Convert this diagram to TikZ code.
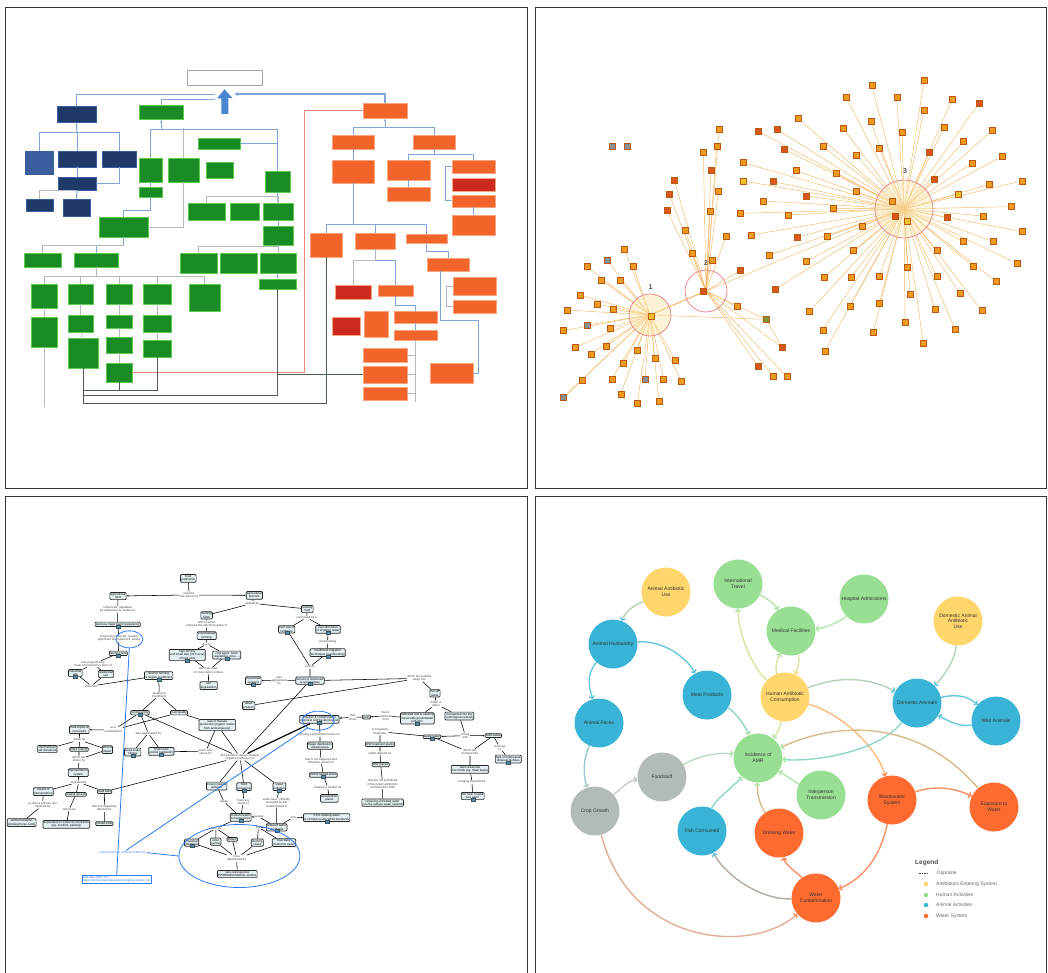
\documentclass[tikz,border=0pt]{standalone}
\usepackage{fontspec}
\setmainfont{Liberation Sans}
\usepackage{tikz}
\usetikzlibrary{arrows.meta}
\usetikzlibrary{positioning}
\usetikzlibrary{shapes.geometric}
\usetikzlibrary{backgrounds}

\definecolor{navyb}{HTML}{1F3A68}
\definecolor{navyl}{HTML}{3A5E9E}
\definecolor{grnb}{HTML}{1A8C26}
\definecolor{grnl}{HTML}{5CCB4E}
\definecolor{redb}{HTML}{F2642A}
\definecolor{redl}{HTML}{F8A47E}
\definecolor{redd}{HTML}{CC2A1E}
\definecolor{lnblue}{HTML}{7FA6D6}
\definecolor{lngray}{HTML}{B4B9BE}
\definecolor{lndark}{HTML}{4E5B50}
\definecolor{lnred}{HTML}{EC8A7A}
\definecolor{arblue}{HTML}{4A86D0}
\definecolor{sqa}{HTML}{EE9A22}
\definecolor{sqb}{HTML}{D9571A}
\definecolor{sqg}{HTML}{8A8F92}
\definecolor{sqy}{HTML}{F2C12E}
\definecolor{sqk}{HTML}{7E9A3A}
\definecolor{sqdk}{HTML}{B95A10}
\definecolor{netl}{HTML}{F3B866}
\definecolor{hubring}{HTML}{E98A8A}
\definecolor{cmfill}{HTML}{E4EFF1}
\definecolor{cmicon}{HTML}{5E8CA2}
\definecolor{refblue}{HTML}{2C7BF2}
\definecolor{cY}{HTML}{FED66C}
\definecolor{cG}{HTML}{99DF93}
\definecolor{cB}{HTML}{39B4D6}
\definecolor{cO}{HTML}{FE6B31}
\definecolor{cR}{HTML}{B2BBBA}

\newcommand{\cmfont}{\fontsize{3}{3.4}\selectfont}
\newcommand{\amrfont}{\fontsize{5}{5.7}\selectfont}

\tikzset{
  panel/.style={draw=black!80, line width=0.9pt},
  sz/.style 2 args={minimum width=#1pt, minimum height=#2pt},
  navybox/.style={draw=navyl, line width=0.8pt, fill=navyb, inner sep=0pt},
  grnbox/.style={draw=grnl, line width=0.8pt, fill=grnb, inner sep=0pt},
  redbox/.style={draw=redl, line width=0.8pt, fill=#1, inner sep=0pt},
  redbox/.default=redb,
  goalbox/.style={draw=black!35, line width=0.6pt, fill=white, inner sep=0pt},
  flowln/.style={draw=lnblue, line width=1pt},
  thinln/.style={draw=lngray, line width=0.5pt},
  darkln/.style={draw=lndark, line width=1pt},
  redln/.style={draw=lnred, line width=1pt},
  bigarrow/.style={draw=arblue, line width=7pt, -{Triangle[length=9pt,width=15pt]}, shorten >=4pt},
  hub/.style={circle, draw=hubring, line width=0.8pt, inner sep=0pt},
  hubno/.style={font=\fontsize{7}{7}\selectfont\bfseries, text=black!70, inner sep=0pt},
  sqn/.style={draw=sqdk, fill=sq#1, minimum size=6pt, inner sep=0pt, line width=0.35pt},
  netln/.style={draw=netl, line width=0.45pt},
  cmbox/.style={draw=black!85, line width=0.7pt, rounded corners=1pt, fill=cmfill, font=\cmfont, align=center, inner sep=0.8pt},
  lk/.style={font=\cmfont, text=black!75, align=center, inner sep=0.3pt},
  icsq/.style={fill=cmicon, draw=cmicon!60!black, line width=0.2pt, minimum width=4pt, minimum height=3pt, inner sep=0pt},
  ic/.style={label={[icsq, label distance=-2.2pt]below:{}}},
  cml/.style={draw=black, line width=0.55pt},
  cma/.style={cml, -{Latex[length=2pt,width=1.8pt]}},
  refln/.style={draw=refblue, line width=0.8pt},
  refell/.style={ellipse, draw=refblue, line width=0.8pt, inner sep=0pt},
  amrn/.style={circle, fill=#1, minimum size=49pt, inner sep=0pt, align=center, font=\amrfont, text=black!80},
  ed/.style 2 args={draw=#1!50!#2!75!white, line width=1.4pt, -{Straight Barb[length=2.2pt,width=5.5pt,color=#2!80!white]}},
  lgd/.style={font=\fontsize{5}{6}\selectfont, text=black!60, inner sep=0.5pt},
  ldot/.style={circle, fill=#1, minimum size=4.5pt, inner sep=0pt},
}

\begin{document}
\begin{tikzpicture}[x=1pt, y=-1pt]
    \useasboundingbox (0,0) rectangle (1048,973);

    % ---- top left: flow chart
    \node[goalbox, sz={75}{15}] (goal) at (224.5,77.5) {};
    \coordinate (abase) at (225,114);
    \draw[bigarrow] (abase) -- (goal.south);

    \node[navybox, sz={39}{16}] (n1) at (76.5,114) {};
    \node[navybox, sz={28}{23}, fill=navyl] (n2) at (39,162.5) {};
    \node[navybox, sz={38}{16}] (n3) at (77,159) {};
    \node[navybox, sz={34}{16}] (n4) at (119,159) {};
    \node[navybox, sz={38}{13}] (n5) at (77,183.5) {};
    \node[navybox, sz={27}{12}] (n6) at (39.5,205) {};
    \node[navybox, sz={27}{17}] (n7) at (76.5,207.5) {};

    \node[grnbox, sz={44}{14}] (g1) at (161,112) {};
    \node[grnbox, sz={42}{11}] (g2) at (219,143.5) {};
    \node[grnbox, sz={23}{24}] (g3) at (150.5,170) {};
    \node[grnbox, sz={31}{24}] (g4) at (183.5,170) {};
    \node[grnbox, sz={27}{16}] (g5) at (219.5,170) {};
    \node[grnbox, sz={23}{10}] (g6) at (150.5,192) {};
    \node[grnbox, sz={25}{21}] (g7) at (277.5,181.5) {};
    \node[grnbox, sz={37}{17}] (g8) at (206.5,211.5) {};
    \node[grnbox, sz={29}{17}] (g9) at (244.5,211.5) {};
    \node[grnbox, sz={30}{17}] (g10) at (278,211.5) {};
    \node[grnbox, sz={30}{19}] (g11) at (278,235.5) {};
    \node[grnbox, sz={49}{20}] (g12) at (123.5,227) {};
    \node[grnbox, sz={37}{20}] (g13) at (198.5,263) {};
    \node[grnbox, sz={37}{20}] (g14) at (238.5,263) {};
    \node[grnbox, sz={36}{20}] (g15) at (278,263) {};
    \node[grnbox, sz={37}{10}] (g16) at (277.5,284) {};
    \node[grnbox, sz={37}{14}] (g17) at (42.5,260) {};
    \node[grnbox, sz={44}{14}] (g18) at (96,260) {};
    \node[grnbox, sz={26}{24}] (g19) at (44,296) {};
    \node[grnbox, sz={25}{20}] (g20) at (80.5,294) {};
    \node[grnbox, sz={26}{20}] (g21) at (119,294) {};
    \node[grnbox, sz={28}{20}] (g22) at (157,294) {};
    \node[grnbox, sz={31}{27}] (g23) at (204.5,297.5) {};
    \node[grnbox, sz={26}{30}] (g24) at (44,332) {};
    \node[grnbox, sz={25}{17}] (g25) at (80.5,323.5) {};
    \node[grnbox, sz={26}{13}] (g26) at (119,321.5) {};
    \node[grnbox, sz={28}{17}] (g27) at (157,323.5) {};
    \node[grnbox, sz={30}{30}] (g28) at (83,353) {};
    \node[grnbox, sz={26}{16}] (g29) at (119,345) {};
    \node[grnbox, sz={28}{17}] (g30) at (157,348.5) {};
    \node[grnbox, sz={26}{19}] (g31) at (119,372.5) {};

    \node[redbox, sz={44}{15}] (r1) at (385,110.5) {};
    \node[redbox, sz={42}{14}] (r2) at (353,142) {};
    \node[redbox, sz={42}{14}] (r3) at (434,142) {};
    \node[redbox, sz={42}{23}] (r4) at (353,171.5) {};
    \node[redbox, sz={43}{20}] (r5) at (408.5,170) {};
    \node[redbox, sz={43}{14}] (r6) at (408.5,194) {};
    \node[redbox, sz={43}{13}] (r7) at (473.5,166.5) {};
    \node[redbox=redd, sz={43}{13}] (r8) at (473.5,184.5) {};
    \node[redbox, sz={43}{12}] (r9) at (473.5,201) {};
    \node[redbox, sz={43}{20}] (r10) at (473.5,225) {};
    \node[redbox, sz={32}{24}] (r11) at (326,245) {};
    \node[redbox, sz={40}{16}] (r12) at (375,241) {};
    \node[redbox, sz={41}{9}] (r13) at (426.5,238.5) {};
    \node[redbox, sz={42}{13}] (r14) at (448,264.5) {};
    \node[redbox=redd, sz={36}{14}] (r15) at (353,292) {};
    \node[redbox, sz={35}{11}] (r16) at (395.5,290.5) {};
    \node[redbox, sz={43}{18}] (r17) at (474.5,286) {};
    \node[redbox, sz={43}{13}] (r18) at (474.5,306.5) {};
    \node[redbox=redd, sz={28}{18}] (r19) at (346,326) {};
    \node[redbox, sz={24}{26}] (r20) at (376,324) {};
    \node[redbox, sz={43}{12}] (r21) at (415.5,317) {};
    \node[redbox, sz={43}{10}] (r22) at (415.5,335) {};
    \node[redbox, sz={44}{14}] (r23) at (385,355) {};
    \node[redbox, sz={44}{17}] (r24) at (385,374.5) {};
    \node[redbox, sz={44}{13}] (r25) at (385,393.5) {};
    \node[redbox, sz={43}{20}] (r26) at (451.5,373) {};

    \coordinate (jl) at (215,95);
    \coordinate (jg) at (215,100);
    \coordinate (jr) at (234,94);
    \draw[flowln] (n1.north) |- (jl);
    \draw[flowln] (g1.north) |- (jg);
    \draw[flowln, line width=1.6pt, -{Latex[length=4pt,width=4pt]}] (r1.north) |- (jr);

    \coordinate (busn) at (77,133);
    \draw[flowln, -{Latex[length=3pt]}] (busn) -- (n1.south);
    \draw[flowln] (n2.north) |- (busn);
    \draw[flowln] (busn) -| (n4.north);
    \draw[flowln] (busn) -- (n3.north);
    \draw[flowln] (n3.south) -- (n5.north);
    \draw[flowln] (n4.south) |- (n5.east);
    \draw[thinln] (n6.north) |- (n5.south);
    \draw[flowln] (n5.south) -- (n7.north);

    \coordinate (busg) at (162,130);
    \draw[flowln, -{Latex[length=3pt]}] (busg) -- (g1.south);
    \draw[flowln] (g3.north) |- (busg);
    \draw[flowln] (busg) -| (g7.north);
    \draw[flowln] (g2.east) -| (g7.north);
    \draw[thinln] (g4.north) -- ++(0,-30);
    \draw[thinln] (g4.south) |- (g12.east);
    \draw[flowln] (g3.south) -- (g6.north);
    \draw[flowln] (g6.south) -- ++(0,13) -| (g12.north);
    \draw[flowln] (g12.south) -- ++(0,8) -| (g18.north);
    \draw[thinln] (g17.north) |- ([yshift=-8pt]g12.south);
    \coordinate (busg2) at (96,276);
    \draw[thinln] (g18.south) -- (busg2);
    \foreach \n in {g19,g20,g21,g22,g23}
        \draw[thinln] (busg2) -| (\n.north);
    \draw[thinln] (g19.south) -- (g24.north);
    \draw[thinln] (g20.south) -- (g25.north);
    \draw[thinln] (g25.south) -- (g28.north);
    \draw[thinln] (g21.south) -- (g26.north);
    \draw[thinln] (g26.south) -- (g29.north);
    \draw[thinln] (g29.south) -- (g31.north);
    \draw[thinln] (g22.south) -- (g27.north);
    \draw[thinln] (g27.south) -- (g30.north);
    \draw[flowln] (g7.south) -- (g10.north);
    \draw[flowln] (g10.south) -- (g11.north);
    \draw[flowln] (g11.south) -- (g15.north);
    \draw[flowln] (g15.south) -- (g16.north);
    \draw[thinln] (g8.north) -- ++(0,-6) -| (g10.north);
    \draw[thinln] (g13.north) -- ++(0,-6) -| (g15.north);
    \draw[thinln] (g24.south) -- ++(0,60);

    \draw[redln] (g31.east) -| ([xshift=-58pt]r1.west) -- (r1.west);
    \draw[darkln] (g28.south) -- ++(0,22) -| (g30.south);
    \draw[darkln] (g28.south) -- ++(0,27) -| (g16.south);
    \draw[darkln] (g28.south) -- ++(0,35) -| (r11.south);
    \draw[darkln] (g31.south) -- ++(0,8);
    \draw[darkln] (r24.west) -- ++(-86,0);

    \coordinate (busr) at (385,128);
    \draw[flowln, -{Latex[length=3pt]}] (busr) -- (r1.south);
    \draw[flowln] (r2.north) |- (busr);
    \draw[flowln] (busr) -| (r3.north);
    \draw[flowln] (r2.south) -- (r4.north);
    \coordinate (busr2) at (353,225);
    \draw[flowln] (r4.south) -- (busr2);
    \draw[flowln] (r11.north) |- (busr2);
    \draw[flowln] (busr2) -| (r13.north);
    \draw[flowln] (busr2) -| (r12.north);
    \coordinate (busr3) at (434,155);
    \draw[flowln] (r3.south) -- (busr3);
    \draw[flowln] (r5.north) |- (busr3);
    \draw[flowln] (busr3) -| (r7.north);
    \draw[flowln] (r5.south) -- (r6.north);
    \draw[flowln] (r7.west) -- ++(-6,0) |- (r9.west);
    \draw[flowln] (r9.south) -- (r10.north);
    \draw[flowln] (r13.south) -- ++(0,8) -| (r14.north);
    \draw[flowln] ([xshift=-8pt]r14.south) |- (478,320) |- (r26.east);
    \draw[flowln] (r12.south) -- ++(0,11) -| (r16.north);
    \draw[thinln] (r12.south) -- ++(0,11) -| (r15.north);
    \draw[flowln] (r16.south) -- ++(0,9) -| (r21.north);
    \draw[flowln] (r21.south) -- (r22.north);
    \draw[thinln] (r22.south) -- ++(0,62);
    \foreach \n in {r23,r24,r25}
        \draw[thinln] (\n.east) -- ++(9,0);
    \draw[thinln] (r17.west) -- ++(-6,0) |- (r18.west);

    % ---- top right: network
    \begin{scope}[shift={(530,0)}, scale=1/3]
        \node[hub, minimum size=42pt, fill=sqy!40, fill opacity=0.5] (h1) at (360,945) {};
        \node[hub, minimum size=42pt] (h2) at (528,873) {};
        \node[hub, minimum size=58pt, fill=sqy!35, fill opacity=0.45] (h3) at (1122,627) {};
        \node[hubno] (hl1) at (362,860) {1};
        \node[hubno] (hl2) at (528,790) {2};
        \node[hubno] (hl3) at (1125,512) {3};
        \node[sqn=y] (hc1) at (362,950) {};
        \node[sqn=b] (hc2) at (520,873) {};
        \node[sqn=g] (hh1) at (245,440) {};
        \node[sqn=g] (hh2) at (290,440) {};

        \foreach \x/\y/\c [count=\i] in {1025/255/a, 1182/242/a, 948/292/a, 1100/292/a, 1267/297/a, 1347/310/b,
            1182/330/a, 1022/365/a, 940/385/a, 1117/398/a, 1242/383/a, 1385/392/a, 878/440/a, 1048/445/a,
            1300/425/a, 1198/458/b, 978/465/a, 1415/470/a, 1325/490/a, 917/520/a, 1213/538/b, 1475/543/a,
            1378/553/a, 1285/582/y, 978/575/a, 910/625/a, 1442/620/a, 1360/648/a, 1250/652/b, 997/678/a,
            1475/695/a, 1300/725/a, 1390/725/a, 890/710/a, 970/752/a, 1220/752/a, 1460/790/a, 1330/800/a,
            1398/845/a, 1132/802/a, 1220/828/a, 963/832/a, 1048/828/a, 882/832/a, 1140/883/a, 1290/880/a,
            1048/910/a, 960/918/a, 1215/928/a, 1355/932/a, 1125/968/a, 1030/997/a, 1275/988/a, 1180/1030/a,
            1085/605/a, 1095/648/b, 1130/665/y} {
            \node[sqn=\c] (t\i) at (\x,\y) {};
            \begin{scope}[on background layer]
                \draw[netln] (h3.center) -- (t\i);
            \end{scope}
        }
        \foreach \x/\y/\c [count=\i] in {683/393/b, 740/388/b, 803/355/a, 763/448/b, 640/488/a, 797/512/a,
            640/543/y, 730/545/b, 828/588/b, 698/603/a, 630/640/a, 775/645/a, 663/705/a, 800/712/b,
            718/765/a, 828/785/a, 735/868/b, 838/935/a, 878/990/a, 885/1053/a} {
            \node[sqn=\c] (u\i) at (\x,\y) {};
            \begin{scope}[on background layer]
                \draw[netln] (h3.center) -- (u\i);
            \end{scope}
        }
        \foreach \x/\y/\c [count=\i] in {567/388/a, 520/457/a, 560/440/a, 543/510/b, 565/575/a, 540/633/a,
            588/710/a, 465/690/a, 433/540/b, 418/583/b, 410/630/b, 485/760/a, 545/782/a, 630/812/b,
            620/920/a, 683/1098/b, 730/1130/a, 770/1130/a, 757/1043/b, 708/958/k} {
            \node[sqn=\c] (m\i) at (\x,\y) {};
            \begin{scope}[on background layer]
                \draw[netln] (h2.center) -- (m\i);
            \end{scope}
        }
        \foreach \x/\y/\c [count=\i] in {283/748/a, 232/782/g, 170/800/a, 310/800/a, 213/840/a, 270/840/a,
            150/885/a, 200/912/a, 250/928/a, 110/930/a, 172/975/g, 240/985/a, 100/992/a, 135/1042/a,
            182/1062/a, 228/1040/a, 320/1050/a, 375/1075/a, 435/1080/a, 280/1090/a, 245/1137/a,
            345/1137/g, 400/1137/a, 453/1143/a, 155/1140/a, 272/1182/a, 322/1210/a, 387/1205/a,
            100/1193/g} {
            \node[sqn=\c] (v\i) at (\x,\y) {};
            \begin{scope}[on background layer]
                \draw[netln] (h1.center) -- (v\i);
            \end{scope}
        }
        \begin{scope}[on background layer]
            \draw[netln, line width=1pt] (h1.center) -- (h2.center);
            \draw[netln] (h1.center) -- (m20);
            \draw[netln] (h2.center) -- (h3.center);
            \draw[netln] (v25) -- (v29);
            \draw[netln] (m20) -- (m19);
        \end{scope}
    \end{scope}

    % ---- bottom left: concept map
    \begin{scope}
    \clip (5,496) rectangle (527,980);
    \begin{scope}[shift={(0,490)}, scale=1/3]
        \node[cmbox] (fp) at (565,265) {food\\production};
        \node[cmbox] (al) at (354,318) {agricultural\\land};
        \node[cmbox] (ap) at (763,316) {agricultural\\practice};
        \node[cmbox, ic] (lum) at (353,403) {land use maps (land regulations)};
        \node[cmbox, ic] (fl) at (355,490) {farming land};
        \node[cmbox, ic] (iu) at (226,549) {industrial\\use};
        \node[cmbox] (ru) at (318,552) {residential\\use};
        \node[cmbox, ic] (lff) at (476,557) {land for farming\\is largely insufficient};
        \node[cmbox, ic] (fsc) at (420,668) {food scarcity};
        \node[cmbox] (fq) at (537,668) {food quality};
        \node[cmbox] (fim) at (238,719) {food import is\\necessary};
        \node[cmbox] (iad) at (142,777) {international\\aid donations};
        \node[cmbox] (bm) at (237,778) {black market};
        \node[cmbox] (ei) at (322,779) {ethical\\import};
        \node[cmbox] (ts) at (235,848) {transportation\\system};
        \node[cmbox] (mot) at (130,905) {means of\\transportation};
        \node[cmbox] (ra) at (228,913) {road \& access};
        \node[cmbox] (rb) at (314,905) {road bars};
        \node[cmbox] (atr) at (65,998) {animal transport\\(donkey/horse carts)};
        \node[cmbox] (dec) at (199,1003) {dependent on external constraints\\(eg. controls, parking)};
        \node[cmbox] (ce) at (313,1001) {closed exits};
        \node[cmbox, ic] (ssf) at (398,786) {small scale\\fishing};
        \node[cmbox, ic] (ssa) at (484,784) {small scale\\animal husbandry};
        \node[cmbox] (lmp) at (652,705) {lack of manure\\production (organic matter\\from animal faeces)};
        \node[cmbox] (ep) at (650,888) {environmental\\pollution};
        \node[cmbox, ic] (fpo) at (732,890) {food\\poisoning};
        \node[cmbox, ic] (wp) at (838,890) {water\\pollution};
        \node[cmbox, ic] (hhc) at (722,982) {human health\\consequences};
        \node[cmbox, ic] (rws) at (830,1012) {reduced water\\standards};
        \node[cmbox, ic] (dw35) at (980,983) {3.5\% drinking water\\is complying with WHO standards};
        \node[cmbox, ic] (ii) at (575,1058) {intestinal\\infections};
        \node[cmbox] (cc) at (647,1055) {colon\\cancer};
        \node[cmbox] (oth) at (697,1048) {Others};
        \node[cmbox] (stc) at (772,1058) {stunting\\cases};
        \node[cmbox] (bbs) at (852,1058) {blue baby\\syndrome cases};
        \node[cmbox] (ses) at (712,1152) {sero-retrospective\\EPIDEMIOLOGICAL studies};
        \node[cmbox] (ffs) at (620,376) {farming\\fields};
        \node[cmbox] (inf) at (620,437) {industrialized\\farming};
        \node[cmbox, ic] (hd) at (562,495) {high density\\and small size (<0.5 acre)\\of land plots};
        \node[cmbox, ic] (ct) at (680,495) {crop types: fresh\\vegetables, olive, ...};
        \node[cmbox] (sd) at (626,587) {soil\\degradation};
        \node[cmbox] (ffd) at (922,357) {farming\\field};
        \node[cmbox, ic] (ouf) at (860,418) {over use of\\fertilizers};
        \node[cmbox, ic] (oai) at (984,418) {over-allocation\\of irrigation water};
        \node[cmbox, ic] (iit) at (983,488) {insufficient irrigation\\techniques (overflooding)};
        \node[cmbox, ic] (ecs) at (930,572) {excess of chemicals\\in soil residues};
        \node[cmbox, ic] (isp) at (760,572) {insecticide\\spraying};
        \node[cmbox] (up) at (746,647) {urban\\produce};
        \node[cmbox] (row) at (1305,610) {run-off\\water};
        \node[cmbox, ic] (igp) at (1252,685) {infiltrated and is causing\\irreversible groundwater\\pollution};
        \node[cmbox] (thn) at (1378,678) {transported into the\\hydrological network};
        \node[cmbox] (wel) at (1099,681) {wells};
        \node[cmbox, ic] (pc) at (958,688) {pollution \& contamination\\chemical and bacteriological};
        \node[cmbox] (wdi) at (960,767) {Water distribution\\infrastructure};
        \node[cmbox, ic] (psa) at (970,855) {poorly served areas};
        \node[cmbox] (dsp) at (988,925) {desalination\\plants};
        \node[cmbox] (wwt) at (1140,763) {WW treatment plants};
        \node[cmbox] (wwp) at (1142,824) {WW pumps};
        \node[cmbox] (ruw) at (1148,938) {releasing untreated water\\into the surface water network};
        \node[cmbox, ic] (wwa) at (1296,740) {waste water};
        \node[cmbox] (sw) at (1480,737) {solid waste};
        \node[cmbox, ic] (lsw) at (1525,807) {lack of solid waste\\disposal facilities};
        \node[cmbox] (oar) at (1410,838) {open areas like\\river beds (eg. Wadi Gaza)};
        \node[cmbox, ic] (ncs) at (1418,918) {the near coastal\\sea water};

        \node[lk] (lk1) at (567,315) {requires\\raw resources};
        \node[lk] (lk2) at (353,358) {influenced, regulated\\by authorities by means of};
        \node[lk] (lk3) at (357,445) {but poorly enforced, reveals\\significant discrepancies, where};
        \node[lk] (lk4) at (280,522) {has progressively\\been encroached in favor of};
        \node[lk] (lk5) at (274,588) {therefore};
        \node[lk] (lk6) at (478,615) {leading to\\insufficient};
        \node[lk] (lk7) at (340,720) {as a\\consequence};
        \node[lk] (lk8) at (239,750) {either by};
        \node[lk] (lk9) at (237,808) {which are\\driven by};
        \node[lk] (lk10) at (236,877) {operated by};
        \node[lk] (lk11) at (128,945) {is often a primary one\\replaced by};
        \node[lk] (lk12) at (208,957) {which are};
        \node[lk] (lk13) at (313,955) {which is negatively\\affected by};
        \node[lk] (lk14) at (445,730) {also aggravated by};
        \node[lk] (lk15) at (617,785) {which also\\cause for};
        \node[lk] (lk16) at (720,801) {this situation causes multiple\\negative pathways on};
        \node[lk] (lk17) at (672,935) {leads};
        \node[lk] (lk18) at (730,935) {there are\\forms of};
        \node[lk] (lk19) at (830,938) {some have ``officially''\\accepted by the\\undetermined in};
        \node[lk] (lk20) at (776,980) {causes};
        \node[lk] (lk21) at (880,982) {only};
        \node[lk] (lk22) at (648,1015) {such as};
        \node[lk] (lk23) at (775,1012) {like};
        \node[lk] (lk24) at (710,1105) {to be\\determined by};
        \node[lk] (lk25) at (620,402) {which cannot\\enhance the efficiency gains of};
        \node[lk] (lk26) at (620,462) {due to};
        \node[lk] (lk27) at (625,542) {which by laws\\of crop-rotation-induce};
        \node[lk] (lk28) at (757,340) {applied by};
        \node[lk] (lk29) at (920,383) {composed by a};
        \node[lk] (lk30) at (983,455) {accentuating};
        \node[lk] (lk31) at (930,530) {pollute};
        \node[lk] (lk32) at (838,572) {also\\aggravated\\by};
        \node[lk] (lk33) at (1258,565) {which are washed\\away into};
        \node[lk] (lk34) at (1308,642) {which is\\either};
        \node[lk] (lk35) at (1157,678) {that is\\extracted\\from};
        \node[lk] (lk36) at (1058,682) {that\\show};
        \node[lk] (lk37) at (960,735) {posing a permanent stress on};
        \node[lk] (lk38) at (963,812) {that is not balanced and\\therefore allows for};
        \node[lk] (lk39) at (983,892) {creating a market for};
        \node[lk] (lk40) at (1140,725) {is irregularly\\treated by};
        \node[lk] (lk41) at (1140,790) {which depend on};
        \node[lk] (lk42) at (1148,882) {that are not prioritized\\in the power attribution\\and therefore WW};
        \node[lk] (lk43) at (1396,737) {mixing\\with};
        \node[lk] (lk44) at (1500,773) {belongs\\to};
        \node[lk] (lk45) at (1410,787) {which are\\dumped into};
        \node[lk] (lk46) at (1416,875) {bringing themselves};

        \begin{scope}[on background layer]
            \foreach \a/\b in {fp/lk1, al/lk2, lk2/lum, lum/lk3, lk3/fl, fl/lk4, lk4/iu, lk4/ru,
                iu/lk5, ru/lk5, lk5/lff, lff/lk6, lk6/fsc, lk6/fq, fsc/lk7, fq/lk7, fim/lk8, lk8/iad,
                lk8/bm, lk8/ei, bm/lk9, ei/lk9, lk9/ts, ts/lk10, lk10/mot, lk10/ra, lk10/rb, mot/lk11,
                lk11/atr, ra/lk12, lk12/dec, rb/lk13, lk13/ce, rb/lk16, fsc/lk14, lk14/ssf, lk14/ssa,
                fsc/lk16, fq/lmp, lmp/lk15, lk15/ssa, lmp/lk16, ap/lk28, lk28/ffs, lk28/ffd, ffs/lk25,
                lk25/inf, inf/lk26, lk26/hd, lk26/ct, hd/lk27, ct/lk27, lk27/sd, ffd/lk29, lk29/ouf,
                lk29/oai, oai/lk30, lk30/iit, ouf/lk31, iit/lk31, lk31/ecs, ecs/lk32, ecs/lk33,
                up/lk33, lk33/row, ecs/lk16, row/lk34, lk34/igp, lk34/thn, igp/lk35, wel/lk36,
                pc/lk37, lk37/wdi, wdi/lk38, lk38/psa, psa/lk39, lk39/dsp, wwa/lk40, lk40/wwt,
                wwt/lk41, lk41/wwp, wwp/lk42, lk42/ruw, thn/lk43, wwa/lk45, sw/lk45, lk45/oar,
                oar/lk46, lk46/ncs, sw/lk44, lk44/lsw, lk16/ep, lk16/fpo, lk16/wp, ep/lk17,
                lk17/hhc, fpo/lk18, lk18/hhc, wp/lk19, lk19/rws, rws/lk20, rws/lk21, hhc/lk22,
                lk22/ii, lk22/cc, lk22/oth, rws/lk23, lk23/stc, lk23/bbs, ii/lk24, cc/lk24,
                oth/lk24, stc/lk24, bbs/lk24, lk24/ses}
                \draw[cml] (\a) -- (\b);
            \draw[cml, line width=1.2pt] (pc) -- (lk16);
            \foreach \a/\b in {lk1/al, lk1/ap, lk7/fim, lk32/isp, lk35/wel, lk36/pc, lk43/wwa,
                lk43/sw, lk20/hhc, lk21/dw35}
                \draw[cma] (\a) -- (\b);
        \end{scope}

        \node[refell, minimum width=27pt, minimum height=17pt] (ell1) at (388,448) {};
        \node[refell, minimum width=32pt, minimum height=19pt] (ell2) at (955,692) {};
        \node[refell, minimum width=121pt, minimum height=63pt] (ell3) at (718,1098) {};
        \node[font=\cmfont, text=refblue, inner sep=0.5pt] (bref) at (368,1088) {in perception of common reference};
        \node[draw=refblue, line width=0.7pt, font=\cmfont, text=refblue, align=left, inner sep=0.8pt] (bbox) at (350,1168)
            {field data (WW, etc)\\(www.domain-data-file/epidemiological-studies\_s2)};
        \draw[refln] (bbox.north) -- (ell1.south);
        \draw[refln] (bref) -- (ell2);
        \draw[refln] (bref.east) -- (ell3.west);
    \end{scope}
    \end{scope}

    % ---- bottom right: AMR causal map
    \node[amrn=cY] (aau) at (666,592) {Animal Antibiotic\\Use};
    \node[amrn=cG] (it) at (738,584) {International\\Travel};
    \node[amrn=cG] (ha) at (864,599) {Hospital Admissions};
    \node[amrn=cG] (mf) at (791,631) {Medical Facilities};
    \node[amrn=cY] (daau) at (958,621) {Domestic Animal\\Antibiotic\\Use};
    \node[amrn=cB] (ah) at (613,644) {Animal Husbandry};
    \node[amrn=cB] (mp) at (707,695) {Meat Products};
    \node[amrn=cY] (hac) at (785,697) {Human Antibiotic\\Consumption};
    \node[amrn=cB] (da) at (917,703) {Domestic Animals};
    \node[amrn=cB] (wa) at (996,721) {Wild Animals};
    \node[amrn=cB] (af) at (599,723) {Animal Feces};
    \node[amrn=cG] (amr) at (758,758) {Incidence of\\AMR};
    \node[amrn=cR] (fs) at (662,777) {Foodstuff};
    \node[amrn=cR] (cg) at (595,811) {Crop Growth};
    \node[amrn=cG] (ipt) at (821,795) {Interperson\\Transmission};
    \node[amrn=cO] (ws) at (892,800) {Wastewater\\System};
    \node[amrn=cO] (ew) at (994,807) {Exposure to\\Water};
    \node[amrn=cB] (fc) at (702,831) {Fish Consumed};
    \node[amrn=cO] (dw) at (779,833) {Drinking Water};
    \node[amrn=cO] (wc) at (816,898) {Water\\Contamination};

    \draw[ed={cY}{cB}] (aau) .. controls (635,605) and (626,610) .. (ah);
    \draw[ed={cB}{cB}] (ah) .. controls (660,640) and (685,655) .. (mp);
    \draw[ed={cB}{cB}] (ah) .. controls (585,675) and (590,690) .. (af);
    \draw[ed={cB}{cR}] (af) .. controls (583,760) and (583,775) .. (cg);
    \draw[ed={cR}{cR}] (cg) .. controls (625,785) and (630,780) .. (fs);
    \draw[ed={cR}{cG}] (fs) .. controls (700,755) and (720,752) .. (amr);
    \draw[ed={cR}{cO}] (cg) .. controls (630,945) and (750,955) .. (wc);
    \draw[ed={cB}{cG}] (mp) .. controls (735,712) and (745,725) .. (amr);
    \draw[ed={cY}{cG}] (hac) .. controls (750,665) and (738,630) .. (it);
    \draw[ed={cG}{cG}] (it) .. controls (770,600) and (775,605) .. (mf);
    \draw[ed={cG}{cG}] (ha) .. controls (840,622) and (825,628) .. (mf);
    \draw[ed={cY}{cG}] (hac) .. controls (775,668) and (776,662) .. (mf);
    \draw[ed={cG}{cY}] (mf) .. controls (800,660) and (798,668) .. (hac);
    \draw[ed={cY}{cG}] (hac) .. controls (780,728) and (778,732) .. (amr);
    \draw[ed={cY}{cB}] (hac) .. controls (840,675) and (870,678) .. (da);
    \draw[ed={cY}{cO}] (hac) .. controls (845,715) and (878,750) .. (ws);
    \draw[ed={cY}{cB}] (daau) .. controls (955,660) and (945,675) .. (da);
    \draw[ed={cB}{cB}] (da) .. controls (960,693) and (970,698) .. (wa);
    \draw[ed={cB}{cB}] (wa) .. controls (960,727) and (950,722) .. (da);
    \draw[ed={cB}{cG}] (da) .. controls (880,750) and (820,762) .. (amr);
    \draw[ed={cO}{cG}] (ew) .. controls (920,720) and (840,720) .. (amr);
    \draw[ed={cO}{cO}] (ws) .. controls (935,785) and (955,788) .. (ew);
    \draw[ed={cO}{cO}] (ws) .. controls (880,860) and (860,880) .. (wc);
    \draw[ed={cO}{cO}] (wc) .. controls (800,875) and (785,865) .. (dw);
    \draw[ed={cO}{cB}] (wc) .. controls (760,900) and (725,875) .. (fc);
    \draw[ed={cO}{cG}] (dw) .. controls (760,805) and (757,795) .. (amr);
    \draw[ed={cB}{cG}] (fc) .. controls (715,800) and (735,785) .. (amr);
    \draw[ed={cG}{cG}] (ipt) .. controls (800,785) and (785,775) .. (amr);

    % legend
    \node[font=\fontsize{6.5}{7}\selectfont\bfseries, text=black!70, anchor=west, inner sep=0pt] (lgt) at (915,863) {Legend};
    \node[lgd, anchor=west] (lg0) at (936,873) {Opposite};
    \draw[dashed, black!75, line width=0.6pt, dash pattern=on 1.5pt off 1pt] ([xshift=-17pt]lg0.west) -- ([xshift=-7pt]lg0.west);
    \node[ldot=cY] (k1) at (926,884) {};
    \node[ldot=cG] (k2) at (926,895) {};
    \node[ldot=cB] (k3) at (926,905) {};
    \node[ldot=cO] (k4) at (926,916) {};
    \node[lgd, right=7pt of k1] (lg1) {Antibiotics Entering System};
    \node[lgd, right=7pt of k2] (lg2) {Human Activities};
    \node[lgd, right=7pt of k3] (lg3) {Animal Activities};
    \node[lgd, right=7pt of k4] (lg4) {Water System};

    % panel frames
    \draw[panel] (5,7) rectangle (527,488);
    \draw[panel] (535,7) rectangle (1046,488);
    \draw[panel] (5,496) rectangle (527,990);
    \draw[panel] (535,496) rectangle (1046,990);
\end{tikzpicture}
\end{document}
